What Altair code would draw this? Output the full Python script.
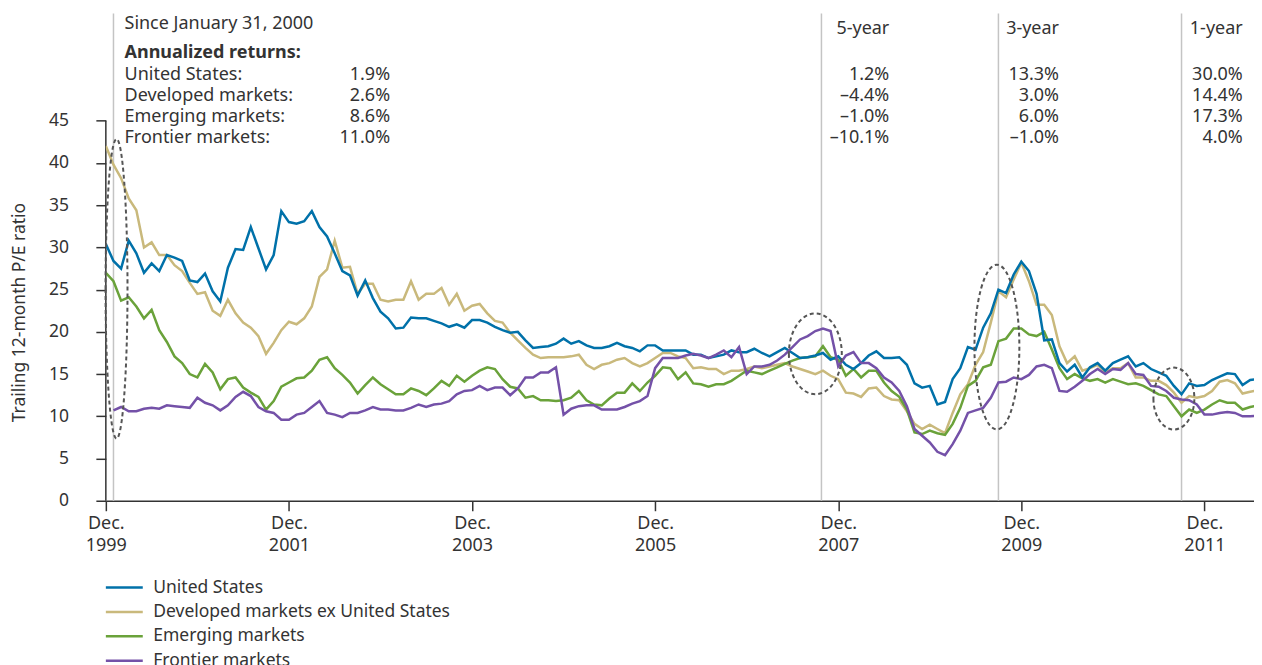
import altair as alt
import pandas as pd

# ---------------- data ----------------
# month index: 0 = Dec. 1999, one step per month
series_names = ["United States", "Developed markets ex United States",
                "Emerging markets", "Frontier markets"]
series_colors = ["#0071A9", "#C9B97C", "#6AA23A", "#7451A8"]

us = [30.4, 28.4, 27.5, 30.8, 29.3, 27.0, 28.1, 27.2, 29.1, 28.8, 28.4, 26.1,
      25.9, 26.9, 24.8, 23.6, 27.6, 29.8, 29.7, 32.4, 29.9, 27.4, 29.1, 34.3,
      33.0, 32.8, 33.1, 34.3, 32.4, 31.3, 29.3, 27.2, 26.7, 24.3, 26.1, 24.0,
      22.4, 21.6, 20.4, 20.5, 21.7, 21.6, 21.6, 21.3, 21.0, 20.6, 20.9, 20.5,
      21.4, 21.4, 21.1, 20.6, 20.2, 19.9, 20.0, 19.0, 18.1, 18.2, 18.3, 18.6,
      19.2, 18.6, 18.9, 18.4, 18.1, 18.1, 18.3, 18.7, 18.3, 18.1, 17.7, 18.4,
      18.4, 17.8, 17.8, 17.8, 17.8, 17.3, 17.3, 16.9, 17.1, 17.3, 17.8, 17.6,
      17.6, 18.0, 17.5, 17.1, 17.6, 18.1, 17.5, 16.9, 17.0, 17.2, 17.5, 16.7,
      17.1, 16.1, 15.6, 16.3, 17.2, 17.7, 16.9, 16.9, 17.0, 16.1, 13.9, 13.4,
      13.6, 11.4, 11.7, 14.4, 15.7, 18.2, 17.9, 20.5, 22.2, 25.0, 24.6, 26.8,
      28.3, 27.2, 24.5, 19.0, 19.1, 16.3, 15.3, 16.1, 14.6, 15.8, 16.3, 15.4,
      16.3, 16.7, 17.1, 15.9, 16.3, 15.6, 15.2, 14.8, 13.6, 12.6, 13.9, 13.6,
      13.7, 14.3, 14.7, 15.1, 15.0, 13.7, 14.3, 14.4]

developed = [42.0, 39.8, 38.2, 35.8, 34.4, 30.0, 30.6, 29.1, 29.1, 27.9, 27.2, 25.8,
             24.5, 24.7, 22.5, 21.9, 23.8, 22.2, 21.1, 20.5, 19.5, 17.4, 18.7, 20.2,
             21.2, 20.9, 21.6, 23.0, 26.5, 27.4, 30.8, 27.6, 27.7, 24.5, 25.7, 25.7,
             23.8, 23.6, 23.8, 23.8, 26.0, 23.8, 24.5, 24.5, 25.2, 23.2, 24.5, 22.5,
             23.1, 23.3, 22.2, 21.3, 21.1, 19.9, 19.0, 18.1, 17.3, 16.9, 17.0, 17.0,
             17.0, 17.1, 17.3, 16.1, 15.6, 16.1, 16.3, 16.7, 16.9, 16.3, 15.9, 16.3,
             16.9, 17.5, 17.5, 17.1, 16.9, 15.7, 15.8, 15.6, 15.6, 15.0, 15.4, 15.4,
             15.6, 15.9, 15.7, 15.9, 16.1, 16.3, 15.9, 15.6, 15.3, 15.0, 15.4, 14.8,
             14.4, 12.8, 12.7, 12.3, 13.3, 13.4, 12.4, 12.0, 11.9, 10.6, 9.1, 8.5,
             9.0, 8.5, 8.0, 10.4, 12.6, 13.8, 16.1, 17.6, 21.1, 24.8, 24.1, 26.2,
             28.2, 26.0, 23.2, 23.2, 22.0, 18.3, 16.3, 17.1, 15.4, 15.7, 16.1, 15.2,
             15.7, 15.7, 16.3, 14.6, 14.6, 14.2, 14.2, 13.7, 12.8, 11.6, 12.4, 12.2,
             12.4, 13.0, 14.1, 14.3, 13.9, 12.7, 12.9, 13.1]

emerging = [27.0, 26.0, 23.7, 24.1, 23.0, 21.6, 22.6, 20.2, 18.8, 17.1, 16.3, 15.0,
            14.6, 16.2, 15.2, 13.2, 14.4, 14.6, 13.4, 12.8, 12.3, 10.8, 11.8, 13.5,
            14.0, 14.5, 14.6, 15.4, 16.7, 17.0, 15.7, 14.9, 14.0, 12.7, 13.7, 14.6,
            13.8, 13.2, 12.6, 12.6, 13.3, 13.0, 12.5, 13.3, 14.2, 13.6, 14.8, 14.1,
            14.8, 15.4, 15.8, 15.6, 14.4, 13.5, 13.3, 12.2, 12.4, 11.9, 11.9, 11.8,
            11.9, 12.2, 13.0, 11.9, 11.4, 11.3, 12.1, 12.8, 12.8, 13.9, 13.0, 14.0,
            14.8, 15.8, 15.7, 14.4, 15.2, 13.9, 13.8, 13.5, 13.8, 13.8, 14.2, 14.8,
            15.4, 15.2, 15.0, 15.4, 15.8, 16.2, 16.6, 16.9, 17.0, 17.1, 18.3, 17.0,
            16.7, 14.8, 15.6, 14.6, 15.4, 15.4, 14.0, 13.0, 12.3, 10.8, 8.1, 7.9,
            8.3, 8.0, 7.8, 9.1, 11.0, 13.6, 14.2, 15.8, 16.1, 18.9, 19.2, 20.4,
            20.4, 19.7, 19.5, 20.0, 17.9, 15.7, 14.4, 15.0, 14.5, 14.2, 14.4, 14.0,
            14.4, 14.1, 13.8, 13.9, 13.6, 13.1, 12.6, 12.4, 11.2, 10.0, 10.8, 10.4,
            10.8, 11.4, 11.9, 11.6, 11.6, 10.8, 11.1, 11.3]

frontier = [None, 10.7, 11.1, 10.6, 10.6, 10.9, 11.0, 10.9, 11.3, 11.2, 11.1, 11.0,
            12.2, 11.6, 11.3, 10.7, 11.3, 12.3, 12.9, 12.4, 11.1, 10.6, 10.4, 9.6,
            9.6, 10.2, 10.4, 11.1, 11.8, 10.4, 10.2, 9.9, 10.4, 10.4, 10.7, 11.1,
            10.8, 10.8, 10.7, 10.7, 11.0, 11.4, 11.1, 11.4, 11.5, 11.8, 12.6, 13.0,
            13.1, 13.6, 13.1, 13.4, 13.4, 12.5, 13.3, 14.6, 14.6, 15.2, 15.2, 15.8,
            10.2, 10.9, 11.2, 11.3, 11.3, 10.8, 10.8, 10.8, 11.1, 11.5, 11.8, 12.4,
            15.7, 16.9, 16.9, 16.9, 17.2, 17.4, 17.2, 16.9, 17.3, 17.8, 17.0, 18.2,
            15.0, 15.9, 15.9, 16.1, 16.6, 17.3, 18.2, 19.1, 19.5, 20.1, 20.4, 20.1,
            15.9, 17.2, 17.6, 16.3, 16.3, 15.7, 14.6, 14.0, 13.0, 11.2, 8.5, 7.7,
            6.9, 5.8, 5.4, 6.7, 8.3, 10.4, 10.7, 11.0, 12.2, 14.0, 14.1, 14.6,
            14.4, 14.9, 15.9, 16.1, 15.7, 13.0, 12.9, 13.5, 14.2, 15.0, 15.6, 15.0,
            15.6, 15.5, 16.3, 15.0, 14.9, 13.6, 13.5, 13.0, 12.2, 12.0, 11.9, 11.4,
            10.2, 10.2, 10.4, 10.5, 10.4, 10.0, 10.0, 10.1]

tick_months = [0, 24, 48, 72, 96, 120, 144]      # Dec. 1999 ... Dec. 2011
y_ticks = [0, 5, 10, 15, 20, 25, 30, 35, 40, 45]

# start of each return period (Jan 2000, 5-year, 3-year, 1-year)
period_months = [1, 93.8, 117, 141]

# highlighted regions (center month, center P/E)
ellipse_month = [1.4, 93.0, 116.8, 140.0]
ellipse_pe = [25.1, 17.4, 18.2, 12.1]

since_title = "Since January 31, 2000"
returns_title = "Annualized returns:"
return_labels = ["United States:", "Developed markets:", "Emerging markets:",
                 "Frontier markets:"]
period_headers = ["5-year", "3-year", "1-year"]
ret_since = ["1.9%", "2.6%", "8.6%", "11.0%"]
ret_5y = ["1.2%", "\u20134.4%", "\u20131.0%", "\u201310.1%"]
ret_3y = ["13.3%", "3.0%", "6.0%", "\u20131.0%"]
ret_1y = ["30.0%", "14.4%", "17.3%", "4.0%"]

# ---------------- layout ----------------
FONT = "Noto Sans"
TXT = "#333333"
W, H = 1150, 488
XMAX = 150.5
YMAX = 57.7
PLOT_L, PLOT_T = 104.3, 12
PXM = W / XMAX
PXU = H / YMAX


def mx(px):
    return (px - PLOT_L) / PXM


def vy(py):
    return (PLOT_T + H - py) / PXU


# ---------------- tables ----------------
rows = []
draw_order = [(series_names[1], developed), (series_names[2], emerging),
              (series_names[0], us), (series_names[3], frontier)]
for name, vals in draw_order:
    for m, v in enumerate(vals):
        if v is not None:
            rows.append({"month": m, "pe": v, "series": name})
df = pd.DataFrame(rows)

xs = alt.Scale(domain=[0, XMAX], nice=False, zero=False)
ys = alt.Scale(domain=[0, YMAX], nice=False, zero=True)

lines = alt.Chart(df).mark_line(strokeWidth=2.5, clip=True).encode(
    x=alt.X("month:Q", scale=xs, axis=alt.Axis(
        values=tick_months, title=None, grid=False,
        labelExpr="['Dec.', '' + (1999 + datum.value / 12)]",
        tickSize=10, tickColor=TXT, tickWidth=1.5,
        domainColor=TXT, domainWidth=1.5,
        labelFont=FONT, labelFontSize=18, labelColor=TXT,
        labelPadding=3.5, labelLineHeight=22, labelAlign="center")),
    y=alt.Y("pe:Q", scale=ys, axis=alt.Axis(
        values=y_ticks, domain=False, grid=False,
        title="Trailing 12-month P/E ratio",
        titleFont=FONT, titleFontSize=17.5, titleFontWeight="normal",
        titleColor=TXT, titlePadding=20, titleY=299,
        tickSize=10, tickColor=TXT, tickWidth=1.5,
        labelFont=FONT, labelFontSize=17.5, labelColor=TXT, labelPadding=27.5)),
    color=alt.Color("series:N", scale=alt.Scale(domain=series_names, range=series_colors),
                    legend=alt.Legend(
                        title=None, orient="none", legendX=0, legendY=563,
                        direction="vertical", padding=0,
                        symbolType="M-1.72,0H1.72", symbolSize=462,
                        symbolStrokeWidth=2.5, symbolOffset=6.5,
                        labelOffset=17, labelFont=FONT, labelFontSize=17.5,
                        labelColor=TXT, labelLimit=0, rowPadding=3.4)),
)

rule_df = pd.DataFrame({"month": period_months, "y0": 0.0, "y1": YMAX})
rules = alt.Chart(rule_df).mark_rule(color="#c4c4c4", strokeWidth=1.5).encode(
    x=alt.X("month:Q", scale=xs), y=alt.Y("y0:Q", scale=ys), y2="y1:Q")

yline = alt.Chart(pd.DataFrame({"month": [0], "y0": [0], "y1": [45]})).mark_rule(
    color=TXT, strokeWidth=1.5).encode(
    x=alt.X("month:Q", scale=xs), y=alt.Y("y0:Q", scale=ys), y2="y1:Q")

# ellipse outlines (pixel width / height)
ell_w = [22, 53, 45, 41]
ell_h = [300, 81, 165, 62]
paths, sizes, ids = [], [], []
for i, (w, h) in enumerate(zip(ell_w, ell_h)):
    s = max(w, h)
    a, b = w / s, h / s
    paths.append(f"M{-a:.4f},0A{a:.4f},{b:.4f} 0 1,0 {a:.4f},0A{a:.4f},{b:.4f} 0 1,0 {-a:.4f},0Z")
    sizes.append(s * s)
    ids.append(f"e{i}")
ell_df = pd.DataFrame({"month": ellipse_month, "pe": ellipse_pe, "id": ids, "size": sizes})
ellipses = alt.Chart(ell_df).mark_point(
    filled=False, stroke="#555555", strokeWidth=2, strokeDash=[4, 3], opacity=1).encode(
    x=alt.X("month:Q", scale=xs), y=alt.Y("pe:Q", scale=ys),
    shape=alt.Shape("id:N", scale=alt.Scale(domain=ids, range=paths), legend=None),
    size=alt.Size("size:Q", scale=None),
)

# annotation texts
row_base = [78.3, 99.4, 120.5, 141.6]
left_rows = [{"month": mx(123), "pe": vy(27.3), "t": since_title}]
for lab, b in zip(return_labels, row_base):
    left_rows.append({"month": mx(123), "pe": vy(b), "t": lab})
bold_rows = [{"month": mx(123), "pe": vy(56.7), "t": returns_title}]
right_rows = []
col_x = [389, 889, 1059, 1243]
for cx, vals in zip(col_x, [ret_since, ret_5y, ret_3y, ret_1y]):
    for v, b in zip(vals, row_base):
        right_rows.append({"month": mx(cx), "pe": vy(b), "t": v})
for cx, hdr in zip(col_x[1:], period_headers):
    right_rows.append({"month": mx(cx), "pe": vy(32.5), "t": hdr})


def text_layer(rows_, align, weight="normal"):
    return alt.Chart(pd.DataFrame(rows_)).mark_text(
        align=align, baseline="alphabetic", font=FONT, fontSize=18,
        fontWeight=weight, color=TXT).encode(
        x=alt.X("month:Q", scale=xs), y=alt.Y("pe:Q", scale=ys), text="t:N")


texts = text_layer(left_rows, "left") + text_layer(bold_rows, "left", "bold") + \
    text_layer(right_rows, "right")

chart = alt.layer(rules, yline, lines, ellipses, texts).properties(
    width=W, height=H,
    padding={"left": 2, "top": 4, "right": 0, "bottom": 4},
    background="white",
).configure_view(stroke=None)

chart.save("out.html", embed_options={"renderer": "svg", "actions": False})
